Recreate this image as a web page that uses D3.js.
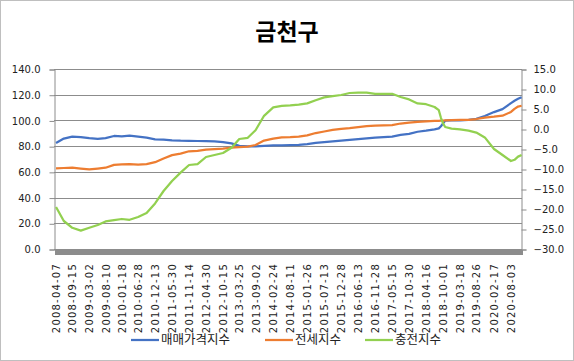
<!DOCTYPE html>
<html>
<head>
<meta charset="utf-8">
<script src="https://cdn.jsdelivr.net/npm/d3@7"></script>
<style>
  body { margin: 0; background: #fff; }
  svg { display: block; }
</style>
</head>
<body>
<div id="chart"></div>
<script>
// Chart dimensions and plot area
const width = 574;
const height = 361;
const plot = { left: 54, right: 522, top: 69, bottom: 249 };

// Sample dates (read at label positions and midpoints)
const dates = [
  '2008-04-07', '2008-06-23', '2008-09-15', '2008-12-08', '2009-03-02', '2009-05-25', '2009-08-10', '2009-11-02',
  '2010-01-18', '2010-04-05', '2010-06-28', '2010-09-20', '2010-12-13', '2011-03-07', '2011-05-30', '2011-08-22',
  '2011-11-14', '2012-02-06', '2012-04-30', '2012-07-23', '2012-10-15', '2013-01-07', '2013-03-25', '2013-06-17',
  '2013-09-02', '2013-11-25', '2014-02-24', '2014-05-19', '2014-08-11', '2014-11-03', '2015-01-26', '2015-04-20',
  '2015-07-13', '2015-10-05', '2015-12-28', '2016-03-21', '2016-06-13', '2016-09-05', '2016-11-28', '2017-02-20',
  '2017-05-15', '2017-08-07', '2017-10-30', '2018-01-22', '2018-04-16', '2018-07-09', '2018-08-20', '2018-09-10',
  '2018-10-01', '2018-10-22', '2018-12-24', '2019-03-18', '2019-06-10', '2019-08-26', '2019-11-18', '2020-02-17',
  '2020-05-11', '2020-08-03', '2020-09-07', '2020-10-12', '2020-11-16'
];

// 매매가격지수 (left axis)
const salesIndex = [
  82.5, 85.9, 87.4, 87.1, 86.2, 85.6, 86.3, 87.9, 87.6, 88.1,
  87.4, 86.6, 85.3, 85.0, 84.5, 84.2, 84.1, 84.0, 83.9, 83.7,
  83.2, 82.2, 80.2, 79.8, 79.8, 80.2, 80.6, 80.6, 80.7, 80.9,
  81.6, 82.5, 83.2, 83.7, 84.3, 84.9, 85.4, 86.0, 86.7, 87.1,
  87.4, 88.7, 89.5, 91.2, 92.0, 93.0, 93.8, 95.5, 97.7, 99.8,
  100.0, 100.0, 100.5, 101.3, 103.4, 106.5, 108.8, 113.5, 115.3, 116.8, 118.0
];

// 전세지수 (left axis)
const jeonseIndex = [
  62.7, 63.0, 63.2, 62.6, 61.9, 62.6, 63.2, 65.4, 65.8, 66.1,
  65.6, 66.0, 67.5, 70.4, 73.0, 74.2, 76.0, 76.3, 77.3, 77.6,
  78.0, 78.9, 79.3, 79.7, 80.9, 84.3, 85.8, 86.8, 87.0, 87.4,
  88.4, 90.2, 91.4, 92.6, 93.5, 94.0, 94.7, 95.5, 95.9, 96.2,
  96.4, 97.6, 98.2, 98.8, 99.3, 99.6, 99.7, 99.8, 99.9, 100.0,
  100.2, 100.5, 100.4, 101.1, 102.2, 102.9, 103.7, 106.6, 109.0, 110.8, 111.4
];

// 충전지수 (right axis)
const chargeIndex = [
  -19.5, -23.0, -24.7, -25.4, -24.7, -24.0, -23.1, -22.8, -22.5, -22.7,
  -22.0, -21.0, -18.6, -15.5, -13.0, -10.9, -9.0, -8.8, -7.0, -6.5,
  -6.0, -4.7, -2.5, -2.2, -0.3, 3.3, 5.4, 5.8, 5.9, 6.1,
  6.4, 7.2, 7.9, 8.2, 8.5, 9.0, 9.1, 9.1, 8.8, 8.8,
  8.8, 8.0, 7.4, 6.4, 6.2, 5.5, 4.7, 2.8, 1.4, 0.5,
  0.1, -0.1, -0.4, -0.9, -2.1, -5.0, -6.5, -8.0, -7.7, -6.9, -6.5
];

// X tick labels
const tickLabels = [
  '2008-04-07', '2008-09-15', '2009-03-02', '2009-08-10', '2010-01-18', '2010-06-28', '2010-12-13',
  '2011-05-30', '2011-11-14', '2012-04-30', '2012-10-15', '2013-03-25', '2013-09-02', '2014-02-24',
  '2014-08-11', '2015-01-26', '2015-07-13', '2015-12-28', '2016-06-13', '2016-11-28', '2017-05-15',
  '2017-10-30', '2018-04-16', '2018-10-01', '2019-03-18', '2019-08-26', '2020-02-17', '2020-08-03'
];

const leftTicks = [0, 20, 40, 60, 80, 100, 120, 140];
const rightTicks = [-30, -25, -20, -15, -10, -5, 0, 5, 10, 15];

const seriesNames = ['매매가격지수', '전세지수', '충전지수'];
const colors = ['#4472C4', '#ED7D31', '#92D050'];

const parse = d3.utcParse('%Y-%m-%d');

const xScale = d3.scaleUtc()
  .domain([parse('2008-03-18'), parse('2020-11-20')])
  .range([plot.left, plot.right]);

const yLeft = d3.scaleLinear().domain([0, 140]).range([plot.bottom, plot.top]);
const yRight = d3.scaleLinear().domain([-30, 15]).range([plot.bottom, plot.top]);

const svg = d3.select('#chart').append('svg')
  .attr('width', width)
  .attr('height', height)
  .style('font-family', 'DejaVu Sans, sans-serif');

// Chart border
svg.append('rect')
  .attr('x', 0.5).attr('y', 0.5)
  .attr('width', width - 1).attr('height', height - 1)
  .attr('fill', '#fff').attr('stroke', '#bfbfbf');

// Title
svg.append('text')
  .attr('x', 287).attr('y', 40)
  .attr('text-anchor', 'middle')
  .style('font-family', '"Noto Sans CJK KR", sans-serif')
  .style('font-weight', 'bold')
  .style('font-size', '23px')
  .text('금천구');

// Gridlines
svg.append('g')
  .selectAll('line')
  .data(leftTicks)
  .join('line')
  .attr('x1', plot.left).attr('x2', plot.right)
  .attr('y1', d => Math.round(yLeft(d)) + 0.5)
  .attr('y2', d => Math.round(yLeft(d)) + 0.5)
  .attr('stroke', '#8c8c8c');

// Left axis
const leftAxis = svg.append('g')
  .attr('transform', `translate(${plot.left + 0.5},0.5)`)
  .call(d3.axisLeft(yLeft).tickValues(leftTicks).tickFormat(d3.format('.1f')).tickSize(5).tickPadding(9));

// Right axis
const rightAxis = svg.append('g')
  .attr('transform', `translate(${plot.right - 0.5},0.5)`)
  .call(d3.axisRight(yRight).tickValues(rightTicks).tickFormat(d3.format('.1f')).tickSize(5).tickPadding(7));

[leftAxis, rightAxis].forEach(g => {
  g.selectAll('path, line').attr('stroke', '#8c8c8c');
  g.selectAll('text').style('font-size', '10px').attr('fill', '#222')
    .style('font-family', 'DejaVu Sans, sans-serif');
});

// Bottom axis: dense weekly tick band
const weekAxis = svg.append('g')
  .attr('transform', `translate(0,${plot.bottom + 0.5})`)
  .call(d3.axisBottom(xScale).ticks(d3.utcMonday.every(1)).tickFormat('').tickSize(5).tickSizeOuter(0));
weekAxis.selectAll('path, line')
  .attr('stroke', '#8c8c8c')
  .attr('shape-rendering', 'crispEdges');

// Bottom axis labels
const labelAxis = svg.append('g')
  .attr('transform', `translate(0,${plot.bottom})`)
  .call(d3.axisBottom(xScale).tickValues(tickLabels.map(parse)).tickFormat(d3.utcFormat('%Y-%m-%d')).tickSize(0));
labelAxis.select('.domain').remove();
labelAxis.selectAll('text')
  .attr('transform', 'rotate(-90)')
  .attr('text-anchor', 'end')
  .attr('x', -14)
  .attr('y', 0)
  .attr('dy', '0.35em')
  .attr('fill', '#222')
  .style('font-size', '10px')
  .style('letter-spacing', '1.2px')
  .style('font-family', 'DejaVu Sans, sans-serif');

// Lines
const seriesData = [
  { values: salesIndex, y: yLeft },
  { values: jeonseIndex, y: yLeft },
  { values: chargeIndex, y: yRight }
];

seriesData.forEach((s, i) => {
  const line = d3.line()
    .x((d, j) => xScale(parse(dates[j])))
    .y(d => s.y(d));
  svg.append('path')
    .datum(s.values)
    .attr('fill', 'none')
    .attr('stroke', colors[i])
    .attr('stroke-width', 2.25)
    .attr('stroke-linejoin', 'round')
    .attr('d', line);
});

// Legend
const legendX = [131, 265, 365];
const legend = svg.append('g')
  .selectAll('g')
  .data(seriesNames)
  .join('g')
  .attr('transform', (d, i) => `translate(${legendX[i]},340)`);

legend.append('line')
  .attr('x1', 0).attr('x2', 28)
  .attr('stroke', (d, i) => colors[i])
  .attr('stroke-width', 2.25);

legend.append('text')
  .attr('x', 30)
  .attr('dy', '0.35em')
  .style('font-family', '"Noto Sans CJK KR", sans-serif')
  .style('font-size', '12.5px')
  .attr('fill', '#222')
  .text(d => d);
</script>
</body>
</html>
